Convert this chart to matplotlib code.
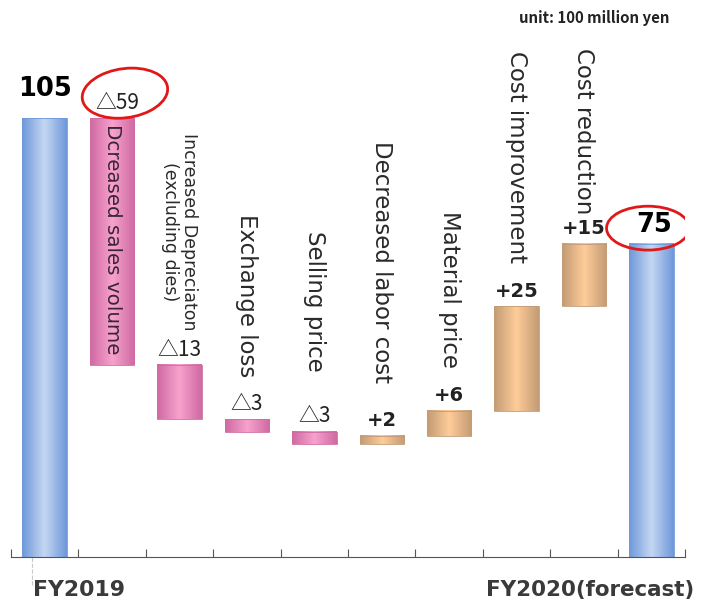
import numpy as np
import matplotlib.pyplot as plt
from matplotlib.colors import LinearSegmentedColormap
from matplotlib.patches import Ellipse
from matplotlib.lines import Line2D

plt.rcParams['font.family'] = ['DejaVu Sans', 'Noto Sans CJK JP']

# operating profit bridge, unit: 100 million yen
start_label = "FY2019"
end_label = "FY2020(forecast)"
start_value = 105
end_value = 75

factors = ["Dcreased sales volume", "Increased Depreciaton\n(excluding dies)",
           "Exchange loss", "Selling price", "Decreased labor cost",
           "Material price", "Cost improvement", "Cost reduction"]
changes = [-59, -13, -3, -3, 2, 6, 25, 15]

# distance (points) from the bar top to the end of the rotated factor name
name_gap = [0, 25, 30, 43, 38, 31, 31, 21]

BLUE = ("#6f98da", "#c4d7f2")
PINK = ("#cf6aa2", "#f7a2cd")
TAN = ("#c39b74", "#ffcc99")
WIDTH = 0.66


def shaded_bar(ax, x, y0, y1, colors):
    cmap = LinearSegmentedColormap.from_list("bar", [colors[0], colors[1], colors[0]])
    grad = np.linspace(0, 1, 64).reshape(1, -1)
    ax.imshow(grad, cmap=cmap, extent=(x - WIDTH / 2, x + WIDTH / 2, y0, y1),
              aspect='auto', zorder=2, interpolation='bilinear')
    ax.bar(x, y1 - y0, bottom=y0, width=WIDTH, facecolor='none',
           edgecolor=colors[0], linewidth=0.6, zorder=3)


fig = plt.figure(figsize=(7.02, 6.03), dpi=100)
ax = fig.add_axes([0.0157, 0.0763, 0.9602, 0.9237])

# totals
shaded_bar(ax, 0, 0, start_value, BLUE)
shaded_bar(ax, len(changes) + 1, 0, end_value, BLUE)
ax.annotate(str(start_value), (0, start_value), xytext=(0, 12),
            textcoords='offset points', ha='center', va='bottom',
            fontsize=18.5, fontweight='bold')
ax.annotate(str(end_value), (len(changes) + 1, end_value), xytext=(2, 4),
            textcoords='offset points', ha='center', va='bottom',
            fontsize=18.5, fontweight='bold')

# floating steps
level = start_value
for i, (name, d) in enumerate(zip(factors, changes), start=1):
    lo, hi = sorted((level, level + d))
    shaded_bar(ax, i, lo, hi, PINK if d < 0 else TAN)
    if d < 0:
        ax.annotate("△%d" % -d, (i, hi), xytext=(3.5 if i == 1 else 0, 3),
                    textcoords='offset points', ha='center', va='bottom',
                    fontsize=15, color='#222222', family='Noto Sans CJK JP')
    else:
        ax.annotate("+%d" % d, (i, hi), xytext=(0, 4),
                    textcoords='offset points', ha='center', va='bottom',
                    fontsize=14, fontweight='bold', color='#222222')
    if i == 1:
        # long label sits inside its own bar
        ax.annotate(name, (i, hi), xytext=(0, -4), textcoords='offset points',
                    rotation=-90, ha='center', va='top', fontsize=14.3,
                    color='#3a2535', zorder=4)
    else:
        ax.annotate(name, (i, hi), xytext=(0, name_gap[i - 1]),
                    textcoords='offset points', rotation=-90, ha='center',
                    va='bottom', fontsize=12.5 if '\n' in name else 16.5,
                    color='#2a2a2a', linespacing=1.1)
    level += d

# red circles drawn around the key figures
ax.add_patch(Ellipse((1.19, start_value + 6), 1.25, 12, angle=-1,
                     fill=False, edgecolor='#e01818', linewidth=2, zorder=5))
ax.add_patch(Ellipse((len(changes) + 0.95, end_value + 3.7), 1.23, 10.5,
                     fill=False, edgecolor='#e01818', linewidth=2, zorder=5))

n = len(changes) + 2
ax.set_xlim(-0.5, n - 0.5)
ax.set_ylim(0, 133.3)
ax.set_xticks(np.arange(n + 1) - 0.5)
ax.set_xticklabels([])
ax.tick_params(axis='x', direction='in', length=6, color='#555555')
ax.set_yticks([])
for side in ('top', 'left', 'right'):
    ax.spines[side].set_visible(False)
ax.spines['bottom'].set_color('#555555')

ax.text(0.0326, -0.042, start_label, transform=ax.transAxes, ha='left',
        va='top', fontsize=15.8, fontweight='bold', color='#3a3a3a')
ax.text(1.013, -0.042, end_label, transform=ax.transAxes, ha='right',
        va='top', fontsize=15.4, fontweight='bold', color='#3a3a3a')

fig.text(0.846, 0.97, "unit: 100 million yen", ha='center', va='center',
         fontsize=10.8, fontweight='bold', color='#222222',
         family='Noto Sans CJK JP')

fig.add_artist(Line2D([32 / 702, 32 / 702], [0.03, 1.0], color='#c8c8c8',
                      linestyle='--', linewidth=0.8, zorder=0))

fig.savefig("out.png", dpi=100)
